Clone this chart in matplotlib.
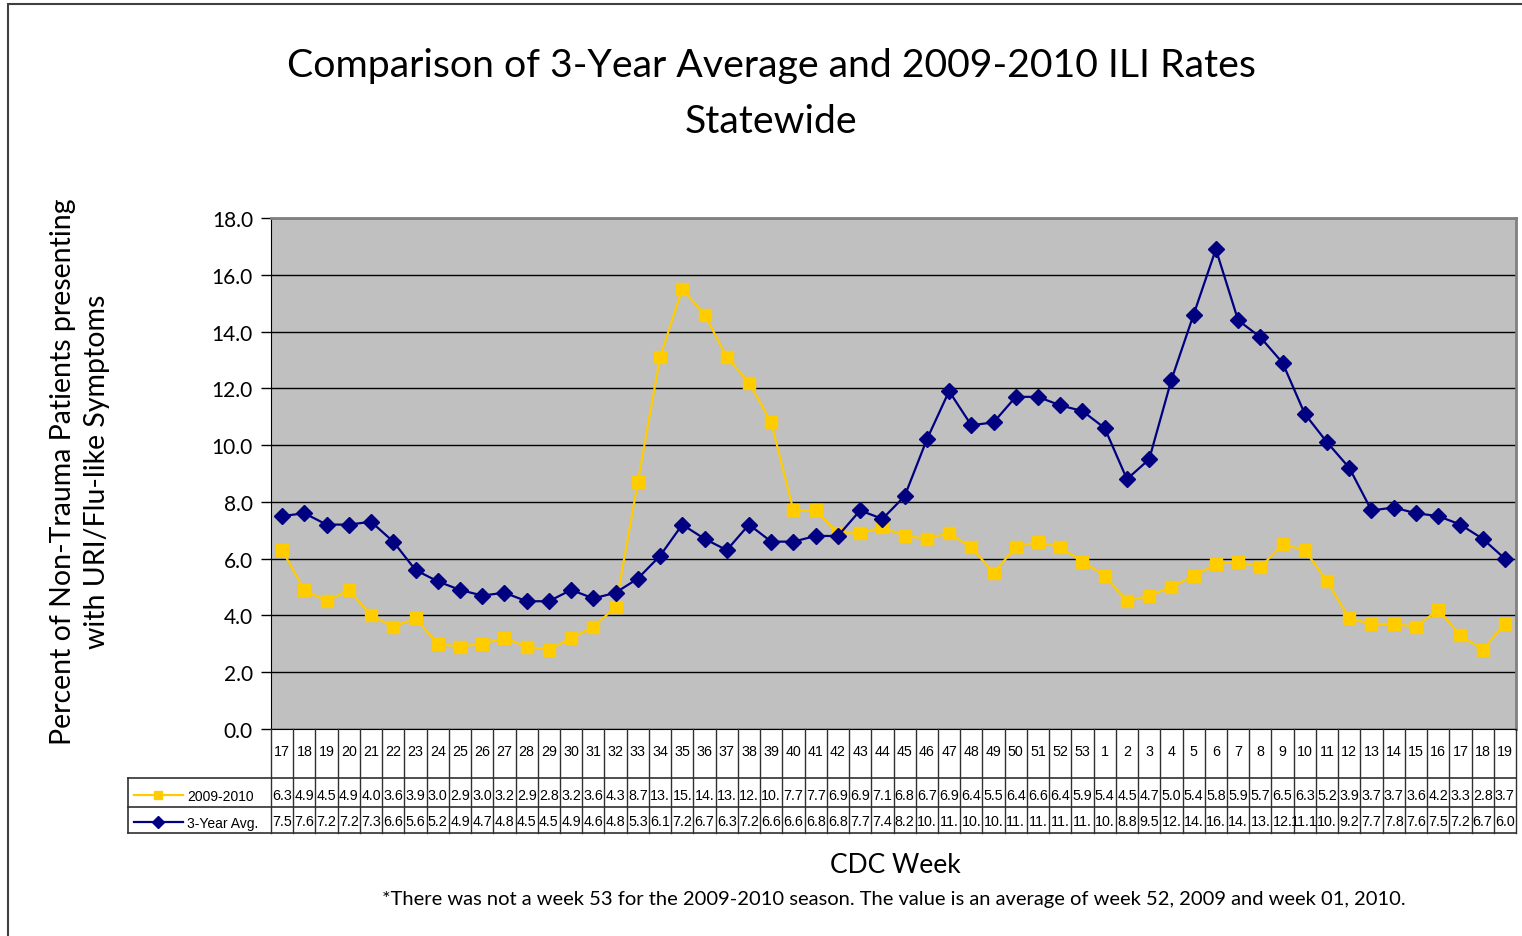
import matplotlib
matplotlib.use("Agg")
import matplotlib.pyplot as plt
from matplotlib.lines import Line2D
from matplotlib.patches import Rectangle
import matplotlib.transforms as mtrans

weeks = [17, 18, 19, 20, 21, 22, 23, 24, 25, 26, 27, 28, 29, 30, 31, 32, 33, 34, 35, 36,
         37, 38, 39, 40, 41, 42, 43, 44, 45, 46, 47, 48, 49, 50, 51, 52, 53,
         1, 2, 3, 4, 5, 6, 7, 8, 9, 10, 11, 12, 13, 14, 15, 16, 17, 18, 19]

season_2009_2010 = [6.3, 4.9, 4.5, 4.9, 4.0, 3.6, 3.9, 3.0, 2.9, 3.0, 3.2, 2.9, 2.8, 3.2, 3.6, 4.3,
                    8.7, 13.1, 15.5, 14.6, 13.1, 12.2, 10.8, 7.7, 7.7, 6.9, 6.9, 7.1, 6.8, 6.7,
                    6.9, 6.4, 5.5, 6.4, 6.6, 6.4, 5.9, 5.4, 4.5, 4.7, 5.0, 5.4, 5.8, 5.9, 5.7,
                    6.5, 6.3, 5.2, 3.9, 3.7, 3.7, 3.6, 4.2, 3.3, 2.8, 3.7]

three_year_avg = [7.5, 7.6, 7.2, 7.2, 7.3, 6.6, 5.6, 5.2, 4.9, 4.7, 4.8, 4.5, 4.5, 4.9, 4.6, 4.8,
                  5.3, 6.1, 7.2, 6.7, 6.3, 7.2, 6.6, 6.6, 6.8, 6.8, 7.7, 7.4, 8.2, 10.2, 11.9,
                  10.7, 10.8, 11.7, 11.7, 11.4, 11.2, 10.6, 8.8, 9.5, 12.3, 14.6, 16.9, 14.4,
                  13.8, 12.9, 11.1, 10.1, 9.2, 7.7, 7.8, 7.6, 7.5, 7.2, 6.7, 6.0]

series_names = ["2009-2010", "3-Year Avg."]
yticks = [0, 2, 4, 6, 8, 10, 12, 14, 16, 18]

W, H = 1522, 937
YELLOW = "#FFCC00"
NAVY = "#000080"
TITLE_FONT = ["Lato", "DejaVu Sans"]
TABLE_FONT = ["Liberation Sans", "DejaVu Sans"]

fig = plt.figure(figsize=(W / 100, H / 100), dpi=100)
fig.patch.set_facecolor("white")

def fx(px):
    return px / W

def fy(py):
    return 1 - py / H

# outer frame
fig.add_artist(Rectangle((fx(8), fy(960)), fx(1540) - fx(8), fy(5) - fy(960),
                         transform=fig.transFigure, fill=False, edgecolor="#404040", lw=1.5))

L, R, T, B = 271, 1516, 219, 730
ax = fig.add_axes([fx(L), fy(B), fx(R) - fx(L), fy(T) - fy(B)])
ax.set_facecolor("#C0C0C0")
n = len(weeks)
x = list(range(n))
ax.set_xlim(-0.5, n - 0.5)
ax.set_ylim(0, 18)
ax.set_yticks(yticks)
ax.set_yticklabels([f"{v:.1f}" for v in yticks], fontsize=15, family=TITLE_FONT)
ax.tick_params(axis="y", direction="out", length=7, width=1, pad=6)
ax.set_xticks([])
ax.grid(axis="y", color="black", lw=1)
ax.set_axisbelow(True)
for s in ["top", "right"]:
    ax.spines[s].set_color("#808080")
    ax.spines[s].set_linewidth(2)
ax.spines["left"].set_color("black")
ax.spines["bottom"].set_color("black")

ax.plot(x, season_2009_2010, color=YELLOW, lw=1.6, marker="s", ms=9, mec=YELLOW,
        mfc=YELLOW, zorder=3, clip_on=False)
ax.plot(x, three_year_avg, color=NAVY, lw=1.6, marker="D", ms=8.5, mec=NAVY,
        mfc=NAVY, zorder=4, clip_on=False)

# data table
tr = mtrans.blended_transform_factory(ax.transData, fig.transFigure)
y_hdr_bot, y_mid, y_bot = 779, 808, 834
for i in range(n + 1):
    fig.add_artist(Line2D([i - 0.5, i - 0.5], [fy(B), fy(y_bot)], transform=tr,
                          color="#303030", lw=1))
for yy in [y_hdr_bot, y_mid, y_bot]:
    fig.add_artist(Line2D([fx(128), fx(R)], [fy(yy), fy(yy)], transform=fig.transFigure,
                          color="#303030", lw=1.2))
fig.add_artist(Line2D([fx(128), fx(128)], [fy(y_hdr_bot), fy(y_bot)],
                      transform=fig.transFigure, color="#303030", lw=1.2))

def cell_text(v):
    s = f"{v:.1f}"
    if v >= 10 and not set(s) <= set("1."):
        s = f"{int(v)}."
    return s

TFS = 10.3
for i, w in enumerate(weeks):
    fig.text(i, fy(752), str(w), transform=tr, ha="center", va="center",
             fontsize=TFS, family=TABLE_FONT)
    fig.text(i, fy(796), cell_text(season_2009_2010[i]), transform=tr, ha="center",
             va="center", fontsize=TFS, family=TABLE_FONT)
    fig.text(i, fy(822), cell_text(three_year_avg[i]), transform=tr, ha="center",
             va="center", fontsize=TFS, family=TABLE_FONT)

for (yy, name, col, mk) in [(796, series_names[0], YELLOW, "s"), (823, series_names[1], NAVY, "D")]:
    fig.add_artist(Line2D([fx(134), fx(183)], [fy(yy), fy(yy)], transform=fig.transFigure,
                          color=col, lw=1.6))
    fig.add_artist(Line2D([fx(158)], [fy(yy)], transform=fig.transFigure, color=col,
                          marker=mk, ms=6, mec=col, mfc=col))
    fig.text(fx(187), fy(yy + 1), name, ha="left", va="center", fontsize=10,
             family=TABLE_FONT)

# titles
fig.text(fx(771), fy(66), "Comparison of 3-Year Average and 2009-2010 ILI Rates",
         ha="center", va="center", fontsize=28.3, family=TITLE_FONT)
fig.text(fx(771), fy(122), "Statewide", ha="center", va="center", fontsize=28.3,
         family=TITLE_FONT)
fig.text(fx(80), fy(472), "Percent of Non-Trauma Patients presenting\nwith URI/Flu-like Symptoms",
         rotation=90, ha="center", va="center", multialignment="center", fontsize=20.5,
         family=TITLE_FONT, linespacing=1.35)
fig.text(fx(895), fy(866), "CDC Week", ha="center", va="center", fontsize=19,
         family=TITLE_FONT)
fig.text(fx(894), fy(900),
         "*There was not a week 53 for the 2009-2010 season. The value is an average of week 52, 2009 and week 01, 2010.",
         ha="center", va="center", fontsize=14.5, family=TITLE_FONT)

fig.savefig("out.png", dpi=100)
